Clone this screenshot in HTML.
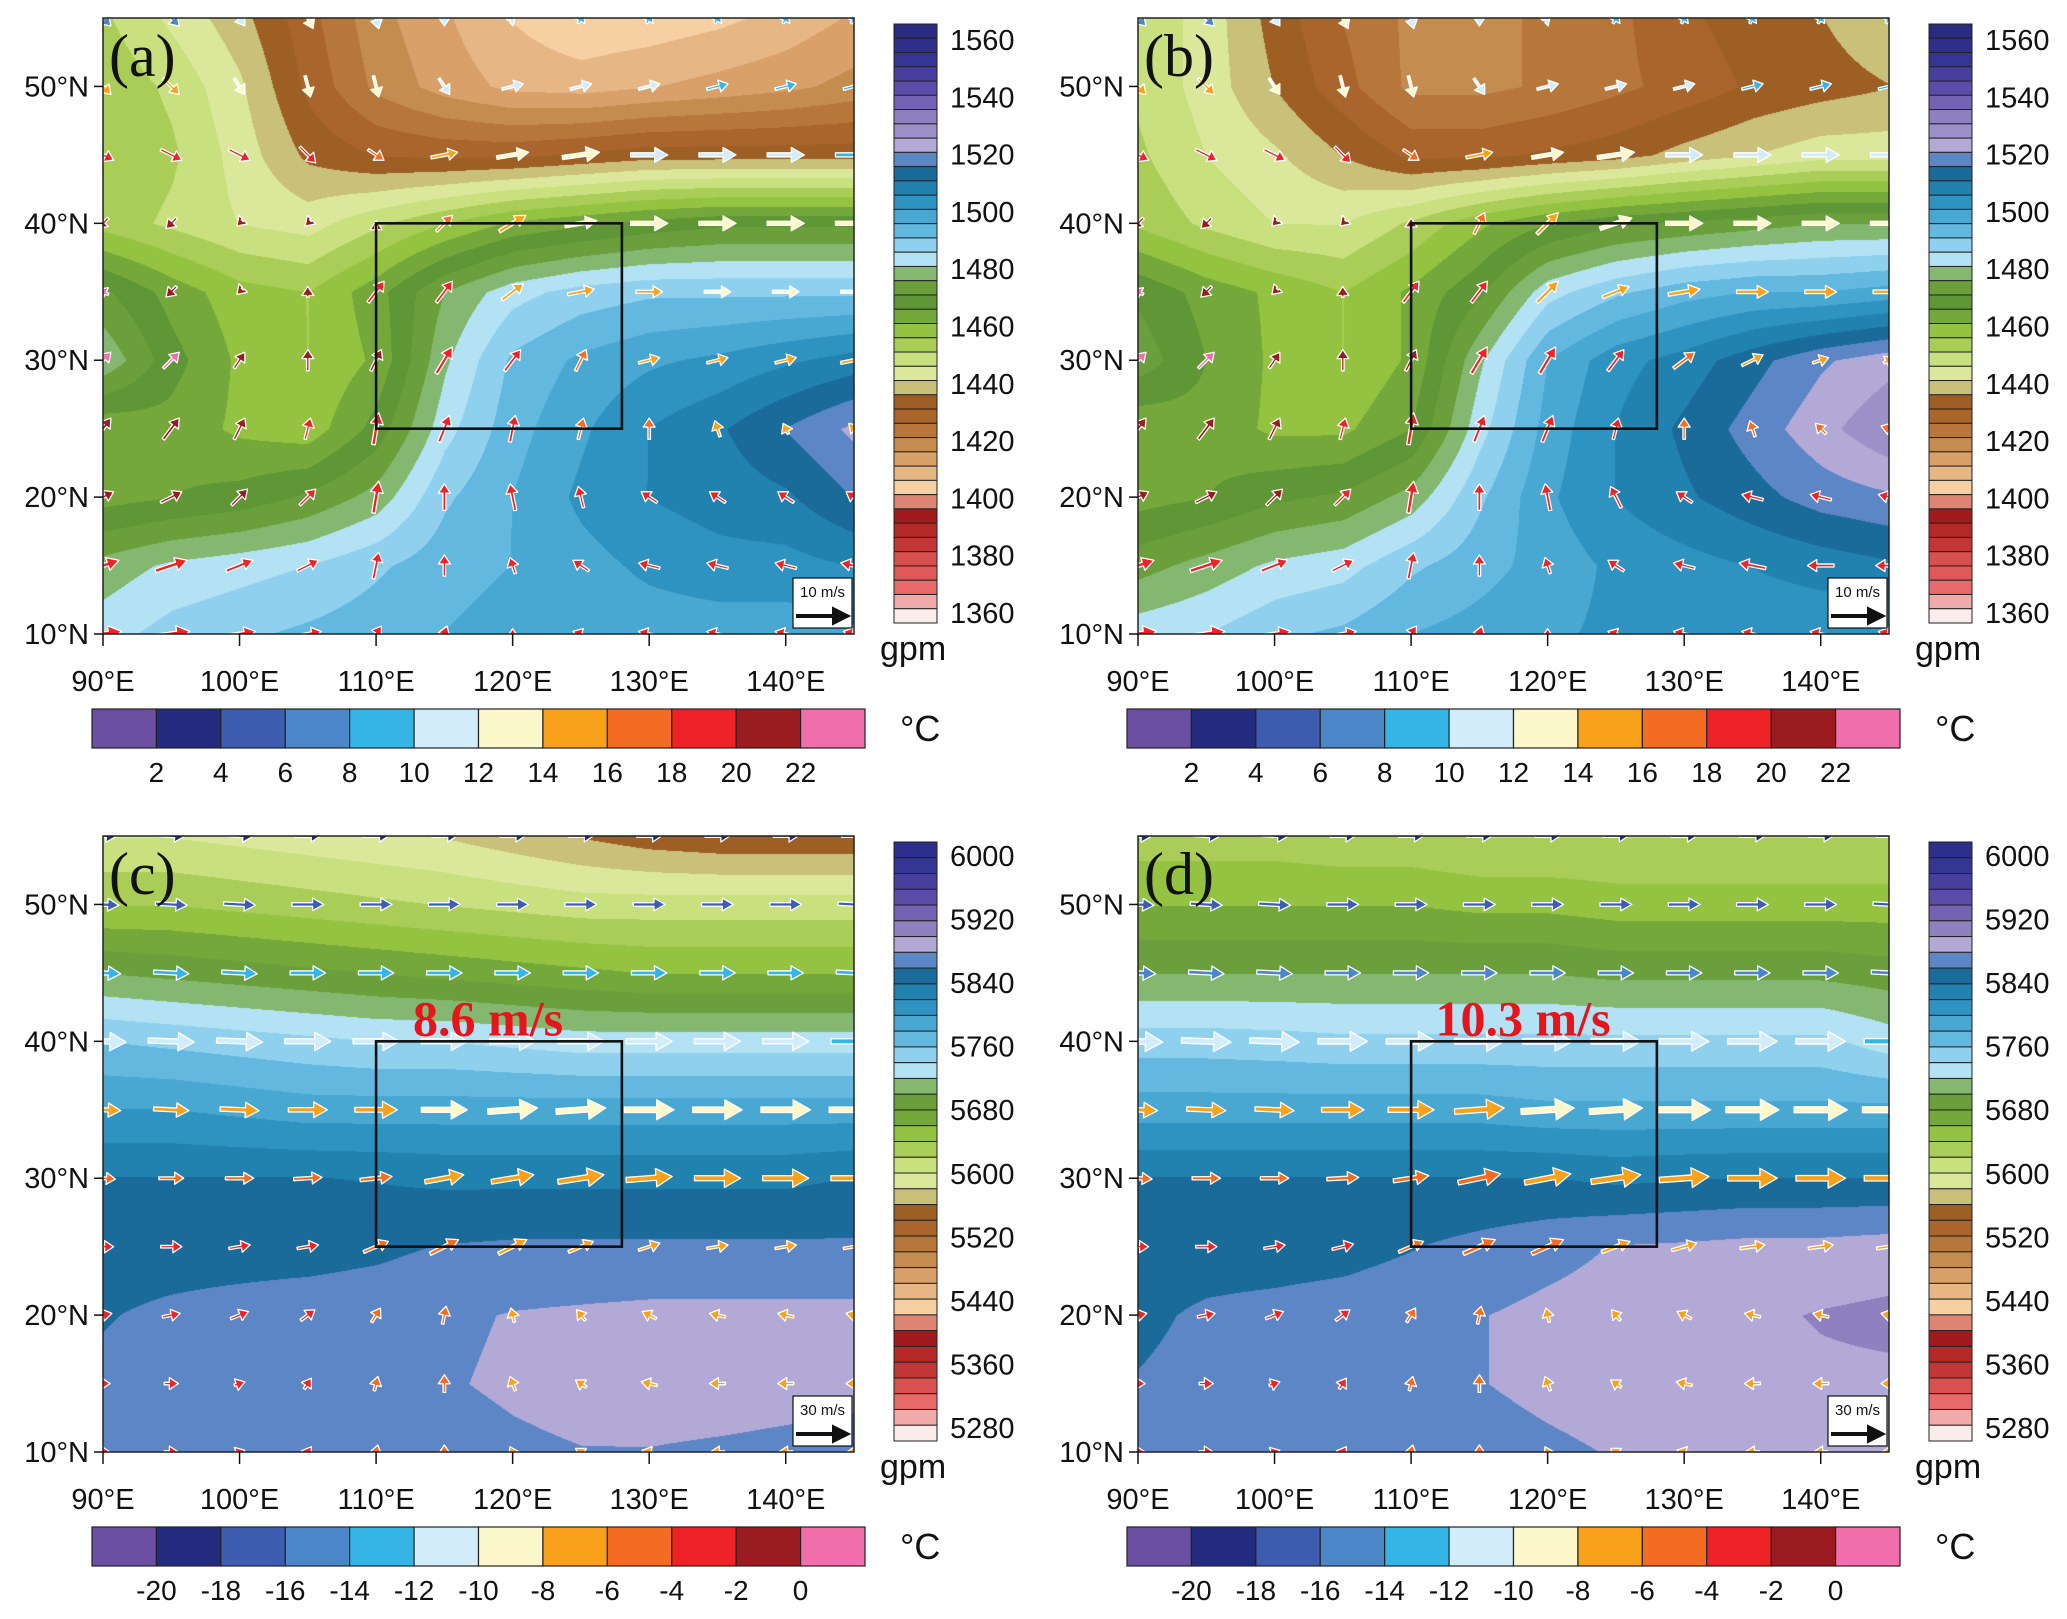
<!DOCTYPE html>
<html><head><meta charset="utf-8">
<style>
html,body{margin:0;padding:0;background:#fff;}
#root{position:relative;width:2067px;height:1619px;overflow:hidden;background:#fff;}
canvas{position:absolute;}
svg{position:absolute;left:0;top:0;}
</style></head>
<body>
<div id="root">
<canvas id="cva" width="751" height="616" style="left:103px;top:18px"></canvas>
<canvas id="cvb" width="751" height="616" style="left:1138px;top:18px"></canvas>
<canvas id="cvc" width="751" height="616" style="left:103px;top:836px"></canvas>
<canvas id="cvd" width="751" height="616" style="left:1138px;top:836px"></canvas>
<svg id="ov" width="2067" height="1619" xmlns="http://www.w3.org/2000/svg"><defs><clipPath id="mapclip"><rect x="0" y="0" width="751" height="616"/></clipPath></defs></svg>
</div>
<script>
// ---------- data (rows: 55N..10N every 5deg; cols: 90E..145E every 5deg) ----------
const lonTicks = [90,100,110,120,130,140];
const latTicks = [10,20,30,40,50];
const gpmLabelsLow = [1560,1540,1520,1500,1480,1460,1440,1420,1400,1380,1360];
const gpmLabelsHigh = [6000,5920,5840,5760,5680,5600,5520,5440,5360,5280];
const tempLabelsLow = [2,4,6,8,10,12,14,16,18,20,22];
const tempLabelsHigh = [-20,-18,-16,-14,-12,-10,-8,-6,-4,-2,0];
const speedA = "8.6 m/s";
const speedD = "10.3 m/s";

const hgtA = [
[1452,1445,1438,1428,1418,1412,1406,1402,1403,1405,1408,1412],
[1455,1450,1442,1430,1420,1414,1410,1409,1411,1413,1415,1418],
[1456,1452,1444,1435,1431,1430,1430,1432,1434,1434,1434,1434],
[1454,1450,1446,1444,1450,1456,1462,1465,1468,1470,1470,1470],
[1472,1464,1458,1456,1464,1476,1484,1488,1490,1490,1490,1490],
[1480,1468,1460,1456,1462,1480,1492,1497,1500,1502,1505,1508],
[1462,1464,1460,1458,1468,1484,1494,1500,1506,1510,1516,1522],
[1464,1466,1468,1472,1478,1490,1496,1502,1506,1508,1510,1516],
[1478,1482,1484,1486,1490,1494,1496,1499,1502,1504,1504,1506],
[1484,1488,1490,1492,1494,1496,1498,1498,1498,1498,1498,1500]];
const hgtB = [
[1450,1444,1434,1426,1420,1420,1422,1425,1430,1434,1436,1440],
[1450,1444,1436,1428,1420,1420,1422,1425,1428,1432,1434,1436],
[1452,1446,1442,1436,1430,1430,1432,1434,1438,1441,1444,1444],
[1455,1450,1446,1446,1452,1460,1466,1470,1472,1474,1476,1476],
[1470,1464,1460,1456,1462,1470,1484,1490,1494,1496,1496,1498],
[1474,1466,1460,1456,1462,1480,1496,1504,1508,1514,1520,1524],
[1462,1464,1460,1460,1466,1484,1498,1506,1512,1518,1524,1530],
[1464,1466,1470,1472,1478,1490,1500,1506,1510,1514,1518,1520],
[1474,1478,1482,1484,1490,1494,1498,1502,1504,1506,1508,1510],
[1484,1486,1490,1492,1496,1498,1500,1502,1502,1502,1502,1502]];
const hgtC = [
[5600,5600,5595,5590,5585,5580,5570,5560,5550,5545,5545,5545],
[5640,5640,5635,5630,5625,5620,5615,5610,5610,5610,5610,5610],
[5700,5695,5690,5685,5680,5675,5670,5665,5660,5660,5660,5660],
[5760,5755,5750,5745,5740,5740,5735,5730,5730,5730,5730,5730],
[5800,5800,5795,5790,5790,5790,5790,5790,5790,5790,5790,5790],
[5840,5840,5840,5840,5838,5835,5835,5835,5835,5835,5835,5840],
[5852,5852,5852,5852,5855,5860,5862,5862,5862,5862,5862,5862],
[5858,5862,5865,5868,5870,5875,5880,5882,5884,5884,5884,5884],
[5862,5866,5868,5870,5872,5877,5882,5886,5888,5888,5886,5884],
[5862,5865,5866,5867,5868,5870,5875,5878,5878,5876,5874,5872]];
const hgtD = [
[5630,5630,5630,5625,5625,5620,5620,5620,5620,5620,5620,5620],
[5660,5660,5660,5660,5660,5655,5655,5650,5650,5650,5650,5650],
[5700,5700,5700,5700,5700,5700,5700,5695,5695,5695,5695,5690],
[5750,5750,5748,5745,5745,5745,5745,5745,5745,5745,5745,5730],
[5790,5790,5790,5790,5790,5790,5785,5785,5785,5785,5785,5785],
[5840,5840,5840,5840,5840,5840,5840,5835,5838,5840,5840,5840],
[5850,5850,5850,5852,5858,5865,5872,5880,5882,5885,5885,5888],
[5855,5862,5865,5868,5872,5878,5884,5888,5890,5895,5900,5903],
[5860,5865,5868,5870,5872,5878,5884,5888,5890,5892,5895,5895],
[5860,5865,5866,5867,5868,5870,5875,5880,5882,5882,5882,5882]];

const uA = [
[3,3,2,2,1,0,1,1,1,1,1,1],[3,3,2,1,1,2,4,4,4,4,4,4],[4,4,4,3,3,5,6,7,7,7,7,7],
[-2,-2,-1,-1,0,3,5,6,7,7,7,7],[-2,-2,-1,0,3,3,4,5,5,5,5,5],[3,3,2,0,2,3,3,2,4,4,4,5],
[3,3,2,1,1,2,1,1,0,-1,-1,-2],[4,4,3,3,1,0,-1,-1,-3,-3,-3,-3],[6,6,5,4,1,0,-1,-3,-4,-4,-4,-5],
[7,7,6,5,2,1,0,-3,-4,-4,-4,-4]];
const vA = [
[-3,-3,-3,-4,-4,-3,1,2,2,2,2,2],[-3,-3,-3,-4,-4,-3,1,1,1,1,1,1],[-2,-2,-2,-3,-2,1,1,1,0,0,0,0],
[-2,-2,-1,-1,1,3,3,1,0,0,0,0],[1,-2,-1,2,4,4,3,1,0,0,0,0],[3,3,3,4,4,5,4,4,1,1,1,1],
[4,4,4,4,6,5,5,4,4,3,2,2],[2,2,3,3,6,5,5,4,2,2,2,2],[2,2,2,2,5,4,3,2,1,1,1,1],
[1,1,1,1,3,3,2,1,1,1,1,1]];
const tA = [
[7,7,10,12,11,11,10,9,8,8,8,8],[14,14,13,12,12,11,11,10,10,9,9,9],[19,19,18,18,16,15,13,12,11,10,10,9],
[21,21,20,20,20,16,15,13,12,12,12,12],[23,21,20,20,19,18,15,14,14,13,13,13],[23,23,21,21,20,19,18,17,15,15,15,15],
[21,20,20,19,19,19,19,17,16,15,15,15],[21,21,20,19,19,19,19,19,19,19,19,19],[19,19,19,19,19,19,19,19,19,19,19,19],
[19,19,19,19,19,19,19,19,19,19,19,19]];
const uB = [
[3,3,2,2,1,0,1,1,1,1,1,1],[3,3,2,1,1,2,4,4,4,4,4,4],[4,4,4,3,3,5,6,7,7,7,7,7],
[-2,-2,-1,-1,0,2,4,6,7,7,7,7],[-2,-2,-1,0,3,3,4,5,6,6,6,6],[3,3,2,0,2,3,3,3,4,4,3,2],
[3,3,2,1,1,2,2,1,0,-1,-2,-3],[4,4,3,3,1,0,-1,-2,-3,-4,-4,-4],[6,6,5,4,1,0,-1,-3,-4,-5,-5,-5],
[7,7,6,5,2,1,0,-3,-4,-4,-4,-4]];
const vB = [
[-3,-3,-3,-4,-4,-3,1,2,2,2,2,2],[-3,-3,-3,-4,-4,-3,1,1,1,1,1,1],[-2,-2,-2,-3,-2,1,1,1,0,0,0,0],
[-2,-2,-1,-1,2,4,4,2,0,0,0,0],[1,-2,-1,2,4,4,4,2,1,0,0,0],[3,3,3,4,4,5,5,4,3,2,1,1],
[4,4,4,4,6,5,5,4,4,3,2,1],[2,2,3,3,6,5,5,4,2,1,1,1],[2,2,2,2,5,4,3,2,1,1,0,0],
[1,1,1,1,3,3,2,1,1,1,1,1]];
const tB = [
[7,7,10,12,11,11,10,9,8,8,8,8],[14,14,13,12,12,11,11,10,10,9,9,9],[19,19,18,18,16,15,13,12,11,10,10,10],
[21,21,20,20,20,16,15,13,12,12,12,12],[23,21,20,20,19,18,15,14,14,14,14,14],[23,23,21,21,20,19,19,18,16,15,15,15],
[21,20,20,19,19,19,19,18,17,16,16,16],[21,21,20,19,19,19,19,19,19,19,19,19],[19,19,19,19,19,19,19,19,19,19,19,19],
[19,19,19,19,19,19,19,19,19,19,19,19]];
const uC = [
[14,14,14,14,14,14,14,14,14,14,14,14],[18,18,18,18,18,18,18,18,18,18,18,18],[20,20,20,20,20,20,20,20,20,20,20,20],
[26,26,26,26,26,26,26,26,26,26,26,26],[20,20,22,22,24,26,28,28,28,28,28,28],[14,14,16,16,18,22,24,26,26,26,26,26],
[12,12,12,12,14,16,16,14,12,12,12,12],[10,10,10,8,5,2,-2,-5,-8,-9,-9,-9],[8,8,6,4,2,0,-3,-6,-9,-9,-9,-9],
[8,8,6,4,2,0,-3,-6,-8,-8,-8,-8]];
const vC = [
[-1,-1,-1,0,0,0,0,0,0,0,0,0],[-1,-1,-1,0,0,0,0,0,0,0,0,-1],[-1,-1,-1,0,0,0,0,0,0,0,0,-1],
[-1,-1,-1,0,0,0,0,0,0,0,0,0],[-1,-1,-1,0,0,0,2,2,0,0,0,0],[-1,0,0,1,2,4,4,4,2,0,0,0],
[0,0,2,2,6,8,8,6,4,2,2,2],[2,2,4,6,8,10,8,6,4,2,2,2],[0,0,2,6,8,10,8,4,2,0,0,0],
[0,0,2,6,8,8,6,4,2,0,0,0]];
const tC = [
[-19,-19,-19,-19,-19,-19,-19,-19,-19,-19,-19,-19],[-17,-17,-17,-17,-17,-17,-17,-17,-17,-17,-17,-17],
[-13,-13,-13,-13,-13,-13,-13,-13,-13,-13,-13,-13],[-11,-11,-11,-11,-11,-11,-11,-11,-11,-11,-11,-13],
[-7,-7,-7,-7,-7,-9,-9,-9,-9,-9,-9,-9],[-5,-5,-5,-5,-5,-7,-7,-7,-7,-7,-7,-7],
[-3,-3,-3,-3,-5,-5,-7,-7,-7,-7,-7,-7],[-3,-3,-3,-3,-5,-5,-7,-7,-7,-7,-7,-7],
[-3,-3,-3,-3,-5,-5,-7,-7,-7,-7,-7,-7],[-3,-3,-3,-3,-5,-5,-7,-7,-7,-7,-7,-7]];
const uD = [
[14,14,14,14,14,14,14,14,14,14,14,14],[18,18,18,18,18,18,18,18,18,18,18,18],[20,20,20,20,20,20,20,20,20,20,20,20],
[28,28,28,28,28,28,28,28,28,28,28,28],[22,22,22,24,26,28,30,30,30,30,30,30],[16,16,16,18,20,24,26,28,28,28,28,28],
[12,12,12,12,14,18,18,16,14,14,14,14],[10,10,10,8,5,2,-2,-5,-8,-9,-9,-9],[8,8,6,4,2,0,-3,-6,-9,-9,-9,-9],
[8,8,6,4,2,0,-3,-6,-8,-8,-8,-8]];
const vD = [
[-1,-1,-1,0,0,0,0,0,0,0,0,0],[-1,-1,-1,0,0,0,0,0,0,0,0,-1],[-1,-1,-1,0,0,0,0,0,0,0,0,-1],
[-1,-1,-1,0,0,0,0,0,0,0,0,0],[-1,-1,-1,0,0,2,2,2,0,0,0,0],[-1,0,0,1,3,5,5,4,2,0,0,0],
[0,0,2,3,6,8,8,6,4,2,2,2],[2,2,4,6,8,10,8,6,4,2,2,2],[0,0,2,6,8,10,8,4,2,0,0,0],
[0,0,2,6,8,8,6,4,2,0,0,0]];
const tD = [
[-19,-19,-19,-19,-19,-19,-19,-19,-19,-19,-19,-19],[-17,-17,-17,-17,-17,-17,-17,-17,-17,-17,-17,-17],
[-15,-15,-15,-15,-15,-15,-15,-15,-15,-15,-15,-15],[-11,-11,-11,-11,-11,-11,-11,-11,-11,-11,-11,-13],
[-7,-7,-7,-7,-7,-7,-9,-9,-9,-9,-9,-9],[-5,-5,-5,-5,-5,-5,-7,-7,-7,-7,-7,-7],
[-3,-3,-3,-3,-5,-5,-5,-7,-7,-7,-7,-7],[-3,-3,-3,-3,-5,-5,-7,-7,-7,-7,-7,-7],
[-3,-3,-3,-3,-5,-5,-7,-7,-7,-7,-7,-7],[-3,-3,-3,-3,-5,-5,-7,-7,-7,-7,-7,-7]];

// ---------- styling ----------
const pal38 = ["#2e2e8c","#353596","#463f9e","#5a4ca8","#7462b3","#8f80c0","#b3a9d6","#5d86c7","#1a6b9a","#2182b0","#2e93c0","#49a8d2","#63b8e0","#8fd0ef","#b3e2f5","#84b870","#6a9f3c","#74a83a","#93c341","#aacd57","#c8e07e","#dbe89c","#c9c07a","#9e5f25","#a9652b","#b8773a","#c58c50","#d9a06a","#e7b685","#f6cfa2","#de8474","#a01b1e","#b52828","#c23638","#d85050","#e86a6a","#f0aaaa","#fbecec"];
const pal42 = ["#2a2a80","#2e2e8c","#353596","#463f9e","#5a4ca8","#7462b3","#8f80c0","#9d90c8","#b3a9d6","#5d86c7","#1a6b9a","#2182b0","#2e93c0","#49a8d2","#63b8e0","#8fd0ef","#b3e2f5","#84b870","#6a9f3c","#5f9636","#74a83a","#93c341","#aacd57","#c8e07e","#dbe89c","#c9c07a","#9e5f25","#a9652b","#b8773a","#c58c50","#d9a06a","#e7b685","#f6cfa2","#de8474","#a01b1e","#b52828","#c23638","#d85050","#e05858","#e86a6a","#f0aaaa","#fbecec"];
const tPal = ["#6b4fa1","#232b7e","#3f5db0","#4a86c8","#35b5e6","#d2ecf9","#fdf7cc","#f9a11b","#f36c21","#ee2227","#9b1c20","#f06ea9"];

const MW=751, MH=616;
const panels = [
 {id:"a",x:103,y:18,hgt:hgtA,u:uA,v:vA,t:tA,pal:pal42,vmin:1356.5,vmax:1565.6,glabels:gpmLabelsLow,tlabels:tempLabelsLow,tbase:0,scale:5.3,ref:"10 m/s",sp:null},
 {id:"b",x:1138,y:18,hgt:hgtB,u:uB,v:vB,t:tB,pal:pal42,vmin:1356.5,vmax:1565.6,glabels:gpmLabelsLow,tlabels:tempLabelsLow,tbase:0,scale:5.3,ref:"10 m/s",sp:null},
 {id:"c",x:103,y:836,hgt:hgtC,u:uC,v:vC,t:tC,pal:pal38,vmin:5263.6,vmax:6017.7,glabels:gpmLabelsHigh,tlabels:tempLabelsHigh,tbase:-22,scale:1.77,ref:"30 m/s",sp:speedA},
 {id:"d",x:1138,y:836,hgt:hgtD,u:uD,v:vD,t:tD,pal:pal38,vmin:5263.6,vmax:6017.7,glabels:gpmLabelsHigh,tlabels:tempLabelsHigh,tbase:-22,scale:1.77,ref:"30 m/s",sp:speedD}
];
const NS="http://www.w3.org/2000/svg";
const ov=document.getElementById("ov");
function mk(tag,attrs,parent){const e=document.createElementNS(NS,tag);for(const k in attrs)e.setAttribute(k,attrs[k]);(parent||ov).appendChild(e);return e;}
function hex(c){return [parseInt(c.substr(1,2),16),parseInt(c.substr(3,2),16),parseInt(c.substr(5,2),16)];}
function xOf(lon){return (lon-90)/55*MW;}
function yOf(lat){return (55-lat)/45*MH;}
function field(f,lon,lat){
  let fi=(lon-90)/5, fj=(55-lat)/5;
  fi=Math.max(0,Math.min(11,fi)); fj=Math.max(0,Math.min(9,fj));
  const i0=Math.min(10,Math.floor(fi)), j0=Math.min(8,Math.floor(fj));
  const dx=fi-i0, dy=fj-j0;
  return f[j0][i0]*(1-dx)*(1-dy)+f[j0][i0+1]*dx*(1-dy)+f[j0+1][i0]*(1-dx)*dy+f[j0+1][i0+1]*dx*dy;
}
panels.forEach(p=>{
  const cv=document.getElementById("cv"+p.id), ctx=cv.getContext("2d");
  const img=ctx.createImageData(MW,MH);
  const n=p.pal.length, rgb=p.pal.map(hex);
  for(let py=0;py<MH;py++){
    const lat=55-py/MH*45;
    for(let px=0;px<MW;px++){
      const lon=90+px/MW*55;
      const val=field(p.hgt,lon,lat);
      let b=Math.floor((val-p.vmin)/(p.vmax-p.vmin)*n);
      b=Math.max(0,Math.min(n-1,b));
      const c=rgb[n-1-b], k=(py*MW+px)*4;
      img.data[k]=c[0];img.data[k+1]=c[1];img.data[k+2]=c[2];img.data[k+3]=255;
    }
  }
  ctx.putImageData(img,0,0);

  const g=mk("g",{transform:`translate(${p.x},${p.y})`});
  
  

  const ag=mk("g",{"clip-path":"url(#mapclip)"},g);
  
  
  for(let j=0;j<10;j++)for(let i=0;i<12;i++){
    const u=p.u[j][i], v=p.v[j][i], T=p.t[j][i];
    const sp=Math.hypot(u,v); if(sp<0.1) continue;
    const L=sp*p.scale, ang=Math.atan2(-v,u);
    const cx=xOf(90+5*i), cy=yOf(55-5*j);
    let ti=Math.floor((T-p.tbase)/2); ti=Math.max(0,Math.min(11,ti));
    const col=tPal[ti];
    const w=Math.max(2.5,Math.min(6,L/9)), hl=Math.max(9,L*0.35), hw=Math.max(6,L*0.2);
    const a=mk("g",{transform:`translate(${cx},${cy}) rotate(${ang*180/Math.PI})`},ag);
    
    
    const x0=-L/2, x1=L/2;
    mk("path",{d:`M${x0},${-w/2} L${x1-hl},${-w/2} L${x1-hl},${-hw} L${x1},0 L${x1-hl},${hw} L${x1-hl},${w/2} L${x0},${w/2} Z`,fill:col,stroke:"#fff","stroke-width":1.3,"stroke-linejoin":"round"},a);
  }
  const bx=mk("rect",{x:xOf(110),y:yOf(40),width:xOf(128)-xOf(110),height:yOf(25)-yOf(40),fill:"none",stroke:"#111","stroke-width":2.6},g);
  
  
  const fr=mk("rect",{x:0,y:0,width:MW,height:MH,fill:"none",stroke:"#222","stroke-width":1.5},g);
  
  
  const pl=mk("text",{x:6,y:58,"font-family":"Liberation Serif, serif","font-size":60,fill:"#111"},g);
  pl.textContent="("+p.id+")";
  
  
  if(p.sp){
    const st=mk("text",{x:xOf(118.2),y:yOf(40)-6,"text-anchor":"middle","font-family":"Liberation Serif, serif","font-weight":"bold","font-size":50,fill:"#e8141b"},g);
    st.textContent=p.sp;
    
    
  }
  const rg=mk("g",{},g);
  
  
  mk("rect",{x:690,y:560,width:59,height:50,fill:"#fff",stroke:"#111","stroke-width":1.2},rg);
  const rt=mk("text",{x:719.5,y:579,"text-anchor":"middle","font-family":"Liberation Sans, sans-serif","font-size":15,fill:"#111"},rg);
  rt.textContent=p.ref;
  mk("path",{d:"M694,597 L730,597 L730,590 L746,598 L730,606 L730,599 L694,599 Z",fill:"#111",stroke:"#111","stroke-width":2},rg);
  latTicks.forEach(lat=>{
    const y=yOf(lat);
    mk("line",{x1:-9,y1:y,x2:0,y2:y,stroke:"#111","stroke-width":1.5},g);
    const t=mk("text",{x:-14,y:y+10,"text-anchor":"end","font-family":"Liberation Sans, sans-serif","font-size":29,fill:"#111"},g);
    t.textContent=lat+"°N";
    
    
  });
  lonTicks.forEach(lon=>{
    const x=xOf(lon);
    mk("line",{x1:x,y1:MH,x2:x,y2:MH+12,stroke:"#111","stroke-width":1.5},g);
    const t=mk("text",{x:x,y:MH+57,"text-anchor":"middle","font-family":"Liberation Sans, sans-serif","font-size":29,fill:"#111"},g);
    t.textContent=lon+"°E";
    
    
  });
  const cb=mk("g",{transform:"translate(791,6)"},g);
  
  
  const cbH=599, bh=cbH/n;
  p.pal.forEach((c,k)=>{mk("rect",{x:0,y:k*bh,width:43,height:bh,fill:c,stroke:"#222","stroke-width":1},cb);});
  p.glabels.forEach(v=>{
    const y=(p.vmax-v)/(p.vmax-p.vmin)*cbH;
    const t=mk("text",{x:56,y:y+10,"font-family":"Liberation Sans, sans-serif","font-size":29,fill:"#111"},cb);
    t.textContent=v;
    
    
  });
  const gu=mk("text",{x:-14,y:cbH+37,"font-family":"Liberation Sans, sans-serif","font-size":34,fill:"#111"},cb);
  gu.textContent="gpm";
  
  
  const hb=mk("g",{transform:"translate(-11,691)"},g);
  
  
  const bw=773/12;
  tPal.forEach((c,k)=>{mk("rect",{x:k*bw,y:0,width:bw,height:39,fill:c,stroke:"#222","stroke-width":1.2},hb);});
  p.tlabels.forEach((v,k)=>{
    const t=mk("text",{x:(k+1)*bw,y:73,"text-anchor":"middle","font-family":"Liberation Sans, sans-serif","font-size":28,fill:"#111"},hb);
    t.textContent=v;
    
    
  });
  const tu=mk("text",{x:808,y:32,"font-family":"Liberation Sans, sans-serif","font-size":36,fill:"#111"},hb);
  tu.textContent="°C";
  
  
});
</script>
</body></html>
